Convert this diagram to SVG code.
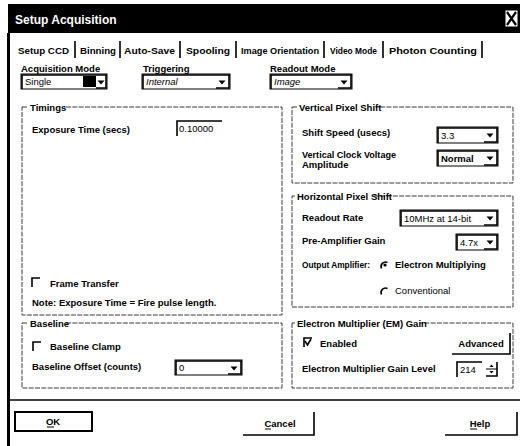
<svg xmlns="http://www.w3.org/2000/svg" width="520" height="446" viewBox="0 0 520 446">
<style>
text{font-family:"Liberation Sans",Arial,sans-serif;font-size:9.5px;font-weight:bold;fill:#000}
.title{fill:#fff;font-size:12px}
.reg{font-weight:normal}
.it{font-style:italic}
.grp{fill:none;stroke:#3a3a3a;stroke-width:1;stroke-dasharray:5 1.3}
.bg{fill:#fff}
.box{fill:#fff;stroke:#000;stroke-width:1}
.sunk{fill:none;stroke:#000;stroke-width:1.6}
.edge{fill:none;stroke:#000;stroke-width:1.6}
.sep{stroke:#000;stroke-width:1.6}
</style>
<defs>
<path id="tri" d="M-3.5 -1.5 H3.5 L0 2.5 Z"/>
</defs>
<rect width="520" height="446" fill="#fff"/>

<g id="frame">
<rect x="8" y="4" width="512" height="29" fill="#000"/>
<text class="title" x="15" y="24">Setup Acquisition</text>
<rect x="505" y="10" width="13" height="17" fill="#fff" stroke="#000" stroke-width="1"/>
<path d="M507 12 L516 25 M516 12 L507 25" stroke="#000" stroke-width="2.2"/>
<rect x="7" y="33" width="3" height="413" fill="#000"/>
<line class="sep" x1="10" y1="400" x2="520" y2="400"/>
</g>

<g id="tabs">
<text x="18" y="54" textLength="51" lengthAdjust="spacingAndGlyphs">Setup CCD</text>
<text x="80" y="54" textLength="36" lengthAdjust="spacingAndGlyphs">Binning</text>
<text x="124" y="54" textLength="51" lengthAdjust="spacingAndGlyphs">Auto-Save</text>
<text x="186" y="54" textLength="44" lengthAdjust="spacingAndGlyphs">Spooling</text>
<text x="241" y="54" textLength="78" lengthAdjust="spacingAndGlyphs">Image Orientation</text>
<text x="330" y="54" textLength="47" lengthAdjust="spacingAndGlyphs">Video Mode</text>
<text x="389" y="54" textLength="88" lengthAdjust="spacingAndGlyphs">Photon Counting</text>
<path class="sep" d="M75 41 V58 M120 41 V58 M180 41 V58 M236 41 V58 M324 41 V58 M383 41 V58 M482 41 V58"/>
</g>

<g id="acquisition-mode">
<text x="21" y="72">Acquisition Mode</text>
<rect class="box" x="21" y="74" width="86" height="15"/>
<path class="sunk" d="M22 89 V75 H107"/>
<rect x="83" y="76" width="13" height="11" fill="#000"/>
<path class="edge" d="M106 75 V88 H96"/>
<use href="#tri" x="101" y="82"/>
<text class="reg" x="25" y="85">Single</text>
</g>

<g id="triggering">
<text x="143" y="72">Triggering</text>
<rect class="box" x="142" y="74" width="88" height="15"/>
<path class="sunk" d="M143 89 V75 H230"/>
<path class="edge" d="M229 75 V88 H216"/>
<use href="#tri" x="222" y="82"/>
<text class="reg it" x="146" y="85">Internal</text>
</g>

<g id="readout-mode">
<text x="270" y="72">Readout Mode</text>
<rect class="box" x="270" y="74" width="82" height="15"/>
<path class="sunk" d="M271 89 V75 H352"/>
<path class="edge" d="M351 75 V88 H338"/>
<use href="#tri" x="344" y="82"/>
<text class="reg it" x="274" y="85">Image</text>
</g>

<g id="timings">
<rect class="grp" x="22" y="107" width="260" height="208"/>
<rect class="bg" x="28" y="101" width="36" height="10"/>
<text x="30" y="111">Timings</text>
<text x="32" y="133">Exposure Time (secs)</text>
<rect class="bg" x="176" y="120" width="46" height="16"/>
<path class="sunk" d="M177 136 V121 H222"/>
<text class="reg" x="179" y="132">0.10000</text>
<path class="sunk" d="M32 287 V278 H40"/>
<text x="50" y="287">Frame Transfer</text>
<text x="32" y="306">Note: Exposure Time = Fire pulse length.</text>
</g>

<g id="baseline">
<rect class="grp" x="22" y="323" width="260" height="65"/>
<rect class="bg" x="28" y="317" width="38" height="10"/>
<text x="30" y="327">Baseline</text>
<path class="sunk" d="M33 351 V342 H41"/>
<text x="50" y="350">Baseline Clamp</text>
<text x="32" y="370">Baseline Offset (counts)</text>
<rect class="box" x="175" y="360" width="67" height="15"/>
<path class="sunk" d="M176 375 V361 H242"/>
<path class="edge" d="M241 361 V374 H228"/>
<use href="#tri" x="234" y="368"/>
<text class="reg" x="179" y="371">0</text>
</g>

<g id="vertical-pixel-shift">
<rect class="grp" x="292" y="107" width="221" height="76"/>
<rect class="bg" x="297" y="101" width="80" height="10"/>
<text x="299" y="111">Vertical Pixel Shift</text>
<text x="302" y="136">Shift Speed (usecs)</text>
<rect class="box" x="437" y="127" width="61" height="16"/>
<path class="sunk" d="M438 143 V128 H498"/>
<path class="edge" d="M497 128 V142 H484"/>
<use href="#tri" x="490" y="135"/>
<text class="reg" x="441" y="139">3.3</text>
<text x="302" y="158" textLength="94" lengthAdjust="spacingAndGlyphs">Vertical Clock Voltage</text>
<text x="302" y="168">Amplitude</text>
<rect class="box" x="437" y="150" width="61" height="16"/>
<path class="sunk" d="M438 166 V151 H498"/>
<path class="edge" d="M497 151 V165 H484"/>
<use href="#tri" x="490" y="158"/>
<text x="441" y="162">Normal</text>
</g>

<g id="horizontal-pixel-shift">
<rect class="grp" x="292" y="196" width="221" height="111"/>
<rect class="bg" x="295" y="190" width="78" height="10"/>
<text x="297" y="200">Horizontal Pixel Shift</text>
<text x="302" y="221">Readout Rate</text>
<rect class="box" x="400" y="210" width="98" height="16"/>
<path class="sunk" d="M401 226 V211 H498"/>
<path class="edge" d="M497 211 V225 H484"/>
<use href="#tri" x="490" y="218"/>
<text class="reg" x="404" y="222">10MHz at 14-bit</text>
<text x="302" y="244">Pre-Amplifier Gain</text>
<rect class="box" x="456" y="234" width="42" height="16"/>
<path class="sunk" d="M457 250 V235 H498"/>
<path class="edge" d="M497 235 V249 H484"/>
<use href="#tri" x="490" y="242"/>
<text class="reg" x="460" y="246">4.7x</text>
<text x="302" y="268" textLength="68" lengthAdjust="spacingAndGlyphs">Output Amplifier:</text>
<path class="sunk" d="M381.5 268.5 A4.5 4.5 0 0 1 387.5 262.5"/>
<circle cx="385" cy="265" r="1.6" fill="#000"/>
<text x="395" y="268">Electron Multiplying</text>
<path class="sunk" d="M381.5 294.5 A4.5 4.5 0 0 1 387.5 288.5"/>
<text class="reg" x="395" y="294">Conventional</text>
</g>

<g id="em-gain">
<rect class="grp" x="292" y="323" width="221" height="65"/>
<rect class="bg" x="295" y="317" width="125" height="10"/>
<text x="297" y="327">Electron Multiplier (EM) Gain</text>
<path class="sunk" d="M304 347 V338 H312"/>
<path d="M305 341 L307.5 345 L311 339" fill="none" stroke="#000" stroke-width="1.6"/>
<text x="320" y="347">Enabled</text>
<path class="edge" d="M452 354 H510 V333"/>
<text x="481" y="347" text-anchor="middle">Advanced</text>
<text x="302" y="372">Electron Multiplier Gain Level</text>
<rect class="bg" x="456" y="361" width="26" height="16"/>
<path class="sunk" d="M457 377 V362 H482"/>
<text class="reg" x="460" y="373">214</text>
<path class="edge" d="M497 362 V376 H486"/>
<line x1="486" y1="369" x2="497" y2="369" stroke="#000" stroke-width="1"/>
<path d="M489.5 367 L491.5 364.5 L493.5 367 Z M489.5 371 L491.5 373.5 L493.5 371 Z" fill="#000"/>
</g>

<g id="buttons">
<rect x="15" y="412" width="77" height="19" fill="#fff" stroke="#000" stroke-width="2"/>
<text x="53" y="425" text-anchor="middle">OK</text>
<line x1="47" y1="427" x2="54" y2="427" stroke="#000" stroke-width="1"/>
<path class="edge" d="M243 435 H314 V412"/>
<text x="280" y="427" text-anchor="middle">Cancel</text>
<line x1="265" y1="429" x2="271" y2="429" stroke="#000" stroke-width="1"/>
<path class="edge" d="M445 435 H517 V412"/>
<text x="480" y="427" text-anchor="middle">Help</text>
<line x1="470" y1="429" x2="477" y2="429" stroke="#000" stroke-width="1"/>
</g>
</svg>
